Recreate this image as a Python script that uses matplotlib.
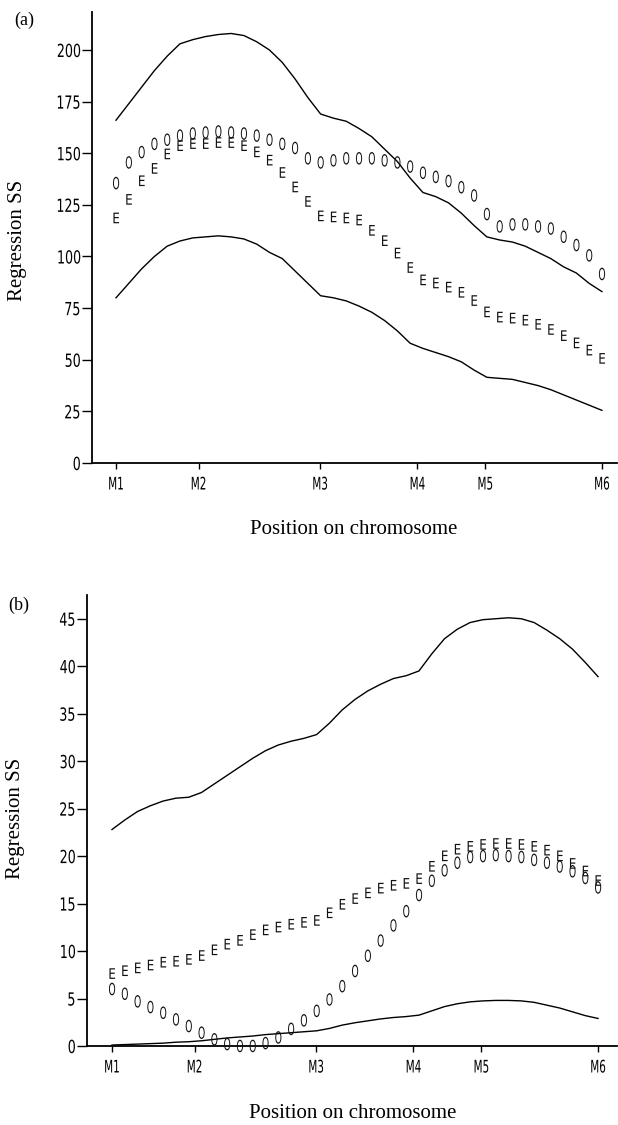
import numpy as np
import matplotlib
matplotlib.use("Agg")
import matplotlib.pyplot as plt
from matplotlib import font_manager, patheffects
from matplotlib.path import Path
from matplotlib.transforms import Affine2D

# ---------------- data ----------------
marker_names = ["M1", "M2", "M3", "M4", "M5", "M6"]
marker_pos = [0, 17, 42, 62, 76, 100]
positions = np.linspace(0, 100, 39)

a_yticks = [0, 25, 50, 75, 100, 125, 150, 175, 200]
b_yticks = [0, 5, 10, 15, 20, 25, 30, 35, 40, 45]

a_obs = [136, 146, 151, 155, 157, 159, 160, 160.5, 161, 160.5, 160, 159, 157,
         155, 153, 148, 146, 147, 148, 148, 148, 147, 146, 144, 141, 139, 137,
         134, 130, 121, 115, 116, 116, 115, 114, 110, 106, 101, 92]
a_exp = [119, 128, 137, 143, 150, 154, 155, 155, 155.5, 155.5, 154, 151, 147,
         141, 134, 127, 120, 119.5, 119, 118, 113, 108, 102, 95, 89, 87.5, 85.5,
         83, 79, 73.5, 71, 70.5, 69.5, 67.5, 65, 62, 58.5, 55, 51]
a_upper = [166, 174, 182, 190, 197, 203, 205, 206.5, 207.5, 208, 207, 204, 200,
           194, 186, 177, 169, 167, 165.5, 162, 158, 152, 146, 138, 131, 129, 126,
           121, 115, 109.5, 108, 107, 105, 102, 99, 95, 92, 87, 83]
a_lower = [80, 87, 94, 100, 105, 107.5, 109, 109.5, 110, 109.5, 108.5, 106, 102,
           99, 93, 87, 81, 80, 78.5, 76, 73, 69, 64, 58, 55.5, 53.5, 51.5, 49, 45,
           41.5, 41, 40.5, 39, 37.5, 35.5, 33, 30.5, 28, 25.5]

b_obs = [6.1, 5.6, 4.8, 4.2, 3.6, 2.9, 2.2, 1.5, 0.8, 0.3, 0.1, 0.1, 0.4, 1.0,
         1.9, 2.8, 3.8, 5.0, 6.4, 8.0, 9.6, 11.2, 12.8, 14.3, 16.0, 17.5, 18.6,
         19.4, 20.0, 20.1, 20.2, 20.1, 20.0, 19.7, 19.4, 19.0, 18.5, 17.8, 16.8]
b_exp = [7.7, 8.0, 8.3, 8.6, 8.9, 9.0, 9.2, 9.6, 10.2, 10.8, 11.2, 11.8, 12.3,
         12.6, 12.9, 13.1, 13.3, 14.1, 15.0, 15.6, 16.2, 16.7, 17.0, 17.2, 17.7,
         19.0, 20.1, 20.8, 21.1, 21.3, 21.4, 21.4, 21.3, 21.1, 20.7, 20.1, 19.3,
         18.5, 17.5]
b_upper = [22.8, 23.8, 24.7, 25.3, 25.8, 26.1, 26.2, 26.7, 27.6, 28.5, 29.4,
           30.3, 31.1, 31.7, 32.1, 32.4, 32.8, 34.0, 35.4, 36.5, 37.4, 38.1, 38.7,
           39.0, 39.5, 41.3, 42.9, 43.9, 44.6, 44.9, 45.0, 45.1, 45.0, 44.6, 43.8,
           42.9, 41.8, 40.4, 38.9]
b_lower = [0.1, 0.15, 0.2, 0.25, 0.3, 0.4, 0.45, 0.55, 0.7, 0.85, 0.95, 1.05,
           1.2, 1.3, 1.4, 1.5, 1.6, 1.85, 2.2, 2.45, 2.65, 2.85, 3.0, 3.1, 3.25,
           3.7, 4.15, 4.45, 4.65, 4.75, 4.8, 4.8, 4.75, 4.6, 4.3, 4.0, 3.6, 3.2,
           2.9]

# ---------------- fonts ----------------
avail = {f.name for f in font_manager.fontManager.ttflist}
SERIF = "Liberation Serif" if "Liberation Serif" in avail else "DejaVu Serif"
SANS = "DejaVu Sans"


class Squeeze(patheffects.AbstractPathEffect):
    """Draw text glyphs horizontally condensed (text stays real text)."""

    def __init__(self, sx, anchor="center"):
        super().__init__()
        self.sx = sx
        self.anchor = anchor

    def draw_path(self, renderer, gc, tpath, affine, rgbFace=None):
        verts = tpath.vertices
        if tpath.codes is not None:
            verts = verts[tpath.codes != Path.CLOSEPOLY]
        if len(verts) == 0:
            return
        v = affine.transform(verts)
        if self.anchor == "right":
            ref = v[:, 0].max()
        else:
            ref = (v[:, 0].min() + v[:, 0].max()) / 2.0
        new = affine + Affine2D().translate(-ref, 0).scale(self.sx, 1.0).translate(ref, 0)
        gc0 = renderer.new_gc()
        gc0.copy_properties(gc)
        gc0.set_snap(False)
        renderer.draw_path(gc0, tpath, new, rgbFace)
        gc0.restore()


W, H = 618, 1125
fig = plt.figure(figsize=(W / 100, H / 100), dpi=100)


def make_panel(rect, xlim, ylim, yticks, obs, exp, upper, lower):
    ax = fig.add_axes(rect)
    ax.set_xlim(*xlim)
    ax.set_ylim(*ylim)
    ax.plot(positions, upper, color="black", lw=1.0)
    ax.plot(positions, lower, color="black", lw=1.0)
    for x, y in zip(positions, obs):
        ax.text(x, y, "O", ha="center", va="center_baseline", fontsize=12,
                family=SANS, color="#111111",
                path_effects=[Squeeze(0.55)])
    for x, y in zip(positions, exp):
        ax.text(x, y, "E", ha="center", va="center_baseline", fontsize=10.5,
                family=SANS, color="#111111",
                path_effects=[Squeeze(0.82)])
    for s in ["top", "right"]:
        ax.spines[s].set_visible(False)
    for s in ["left", "bottom"]:
        ax.spines[s].set_linewidth(1.3)
    ax.set_yticks(yticks)
    ax.set_yticklabels([str(t) for t in yticks], family=SANS, fontsize=13)
    for lab in ax.get_yticklabels():
        lab.set_path_effects([Squeeze(0.7, anchor="right")])
    ax.set_xticks(marker_pos)
    ax.set_xticklabels(marker_names, family=SANS, fontsize=12.5)
    for lab in ax.get_xticklabels():
        lab.set_path_effects([Squeeze(0.6)])
    ax.tick_params(axis="y", direction="out", length=7, width=1.0, pad=1)
    ax.tick_params(axis="x", direction="out", length=4, width=1.0, pad=5)
    return ax


ax_a = make_panel([92 / W, 1 - 463 / H, 525 / W, 451 / H], (-4.94, 103.1),
                  (0, 218.4), a_yticks, a_obs, a_exp, a_upper, a_lower)
ax_b = make_panel([87 / W, 1 - 1046 / H, 530 / W, 451 / H], (-5.14, 103.9),
                  (0, 47.5), b_yticks, b_obs, b_exp, b_upper, b_lower)

# labels
fig.text(24 / W, 1 - 20 / H, "(a)", ha="center", va="center", family=SERIF, fontsize=13)
fig.text(19 / W, 1 - 605 / H, "(b)", ha="center", va="center", family=SERIF, fontsize=13)
fig.text(18 / W, 1 - 240 / H, "Regression SS", rotation=90, ha="center",
         va="center", family=SERIF, fontsize=15)
fig.text(16 / W, 1 - 818 / H, "Regression SS", rotation=90, ha="center",
         va="center", family=SERIF, fontsize=15)
fig.text(354 / W, 1 - 530 / H, "Position on chromosome", ha="center",
         va="center", family=SERIF, fontsize=15)
fig.text(353 / W, 1 - 1113 / H, "Position on chromosome", ha="center",
         va="center", family=SERIF, fontsize=15)

fig.savefig("out.png", dpi=100)
